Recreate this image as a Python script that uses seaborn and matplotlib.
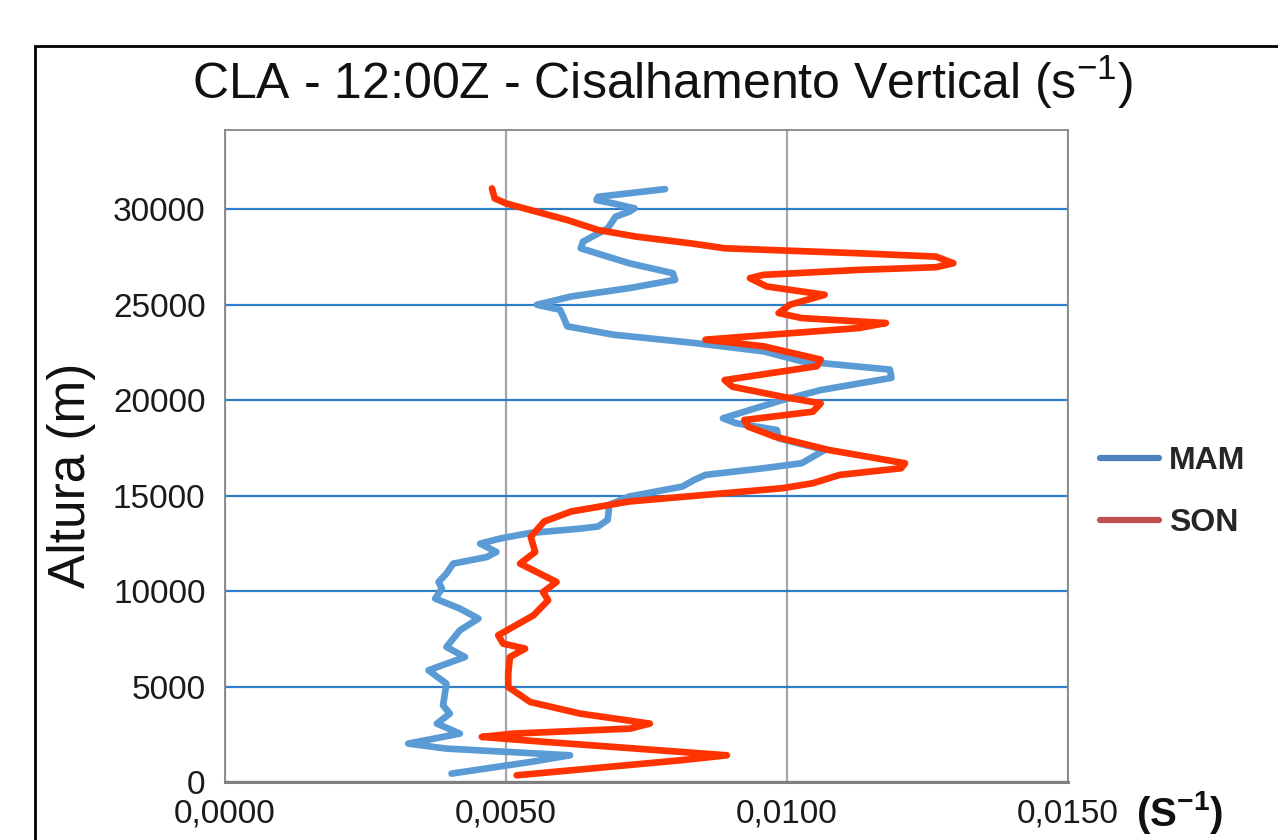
import numpy as np
import pandas as pd
import matplotlib
matplotlib.use("Agg")
import matplotlib.pyplot as plt
from matplotlib.lines import Line2D
from matplotlib.patches import Rectangle
from matplotlib.ticker import FixedLocator, FuncFormatter
import seaborn as sns

# ---- data ----
mam_altura = [440, 1047, 1398, 1749, 2011, 2534, 3058, 3581, 4016, 5152, 5849, 6545, 7069,
              7943, 8556, 9079, 9603, 10125, 10472, 10912, 11435, 11781, 12046, 12482, 12744,
              13032, 13268, 13381, 13729, 14513, 14948, 15471, 15819, 16081, 16429, 16690,
              17387, 17997, 18432, 18781, 19042, 19390, 20000, 20523, 21161, 21596, 22031,
              22553, 22988, 23423, 23858, 24293, 24728, 24989, 25424, 25859, 26294, 26642,
              27164, 27947, 28295, 28991, 29600, 29861, 30035, 30296, 30470, 30644, 31044]
mam_valor = [0.00403, 0.00543, 0.00614, 0.00394, 0.00326, 0.00418, 0.00377, 0.00400, 0.00388,
             0.00394, 0.00362, 0.00427, 0.00394, 0.00418, 0.00451, 0.00418, 0.00374, 0.00386,
             0.00380, 0.00394, 0.00406, 0.00466, 0.00483, 0.00454, 0.00489, 0.00541, 0.00632,
             0.00664, 0.00681, 0.00684, 0.00719, 0.00814, 0.00835, 0.00855, 0.00958, 0.01026,
             0.01067, 0.00985, 0.00982, 0.00910, 0.00886, 0.00924, 0.00992, 0.01060, 0.01186,
             0.01183, 0.01026, 0.00958, 0.00835, 0.00691, 0.00609, 0.00603, 0.00596, 0.00555,
             0.00616, 0.00719, 0.00801, 0.00797, 0.00719, 0.00633, 0.00637, 0.00681, 0.00695,
             0.00719, 0.00729, 0.00691, 0.00661, 0.00664, 0.00783]

son_altura = [351, 1136, 1398, 2095, 2360, 2534, 2796, 3058, 3581, 4189, 4974, 5676, 6545,
              6985, 7246, 7681, 8729, 9514, 9948, 10472, 11435, 12046, 12832, 13642, 14164,
              14687, 15035, 15384, 15645, 16081, 16429, 16690, 17387, 18084, 18606, 18955,
              19390, 19826, 20174, 20697, 21045, 21770, 22118, 22814, 23162, 23771, 24032,
              24293, 24554, 24989, 25511, 25946, 26381, 26555, 26816, 26955, 27164, 27512,
              27686, 27825, 27947, 28208, 28556, 28904, 29426, 30296, 30557, 31080]
son_valor = [0.00519, 0.00810, 0.00893, 0.00572, 0.00457, 0.00513, 0.00721, 0.00756, 0.00632,
             0.00543, 0.00504, 0.00504, 0.00507, 0.00534, 0.00495, 0.00486, 0.00549, 0.00575,
             0.00566, 0.00590, 0.00525, 0.00552, 0.00544, 0.00568, 0.00616, 0.00719, 0.00855,
             0.00992, 0.01046, 0.01094, 0.01203, 0.01210, 0.01074, 0.00978, 0.00931, 0.00924,
             0.01046, 0.01060, 0.00992, 0.00903, 0.00889, 0.01053, 0.01060, 0.00958, 0.00855,
             0.01128, 0.01176, 0.01026, 0.00985, 0.01005, 0.01067, 0.00964, 0.00934, 0.00958,
             0.01128, 0.01265, 0.01296, 0.01265, 0.01128, 0.00999, 0.00889, 0.00828, 0.00732,
             0.00664, 0.00609, 0.00500, 0.00480, 0.00475]

series = ["MAM", "SON"]
x_ticks = [0.0, 0.005, 0.010, 0.015]
y_ticks = [0, 5000, 10000, 15000, 20000, 25000, 30000]

title = "CLA - 12:00Z - Cisalhamento Vertical (s$^{-1}$)"
ylabel = "Altura (m)"
xunit = r"(S$^{\mathbf{-1}}$)"

line_colors = {"MAM": "#5B9BD5", "SON": "#FF3300"}
legend_colors = {"MAM": "#4F81BD", "SON": "#C0504D"}

# ---- style ----
sns.set_style("white")
plt.rcParams["font.family"] = ["Liberation Sans", "DejaVu Sans"]
plt.rcParams["mathtext.fontset"] = "custom"
plt.rcParams["mathtext.rm"] = "Liberation Sans"
plt.rcParams["mathtext.bf"] = "Liberation Sans:bold"

df = pd.concat([
    pd.DataFrame({"valor": mam_valor, "altura": mam_altura, "serie": "MAM"}),
    pd.DataFrame({"valor": son_valor, "altura": son_altura, "serie": "SON"}),
], ignore_index=True)

fig = plt.figure(figsize=(12.78, 8.4), dpi=100)
ax = fig.add_axes([225 / 1278, 58 / 840, 843 / 1278, 652 / 840])

sns.lineplot(data=df, x="valor", y="altura", hue="serie", hue_order=series,
             palette=line_colors, sort=False, estimator=None, linewidth=4.8,
             legend=False, ax=ax, solid_joinstyle="round", solid_capstyle="round")

ax.set_xlim(0, 0.015)
ax.set_ylim(0, 34140)
ax.xaxis.set_major_locator(FixedLocator(x_ticks))
ax.yaxis.set_major_locator(FixedLocator(y_ticks))
ax.xaxis.set_major_formatter(FuncFormatter(lambda v, p: f"{v:.4f}".replace(".", ",")))
ax.yaxis.set_major_formatter(FuncFormatter(lambda v, p: f"{int(v)}"))

ax.set_axisbelow(True)
ax.yaxis.grid(True, color="#2F7FC8", linewidth=1.6)
ax.xaxis.grid(True, color="#A6A6A6", linewidth=1.6)

for side in ["top", "right", "left"]:
    ax.spines[side].set_color("#868686")
    ax.spines[side].set_linewidth(1.3)
ax.spines["bottom"].set_color("#7F7F7F")
ax.spines["bottom"].set_linewidth(2.2)

ax.tick_params(axis="both", direction="out", length=6, width=1.3, color="#7F7F7F",
               labelsize=24, labelcolor="#1a1a1a")
ax.tick_params(axis="x", pad=6)
ax.tick_params(axis="y", pad=8)
ax.set_xlabel("")
ax.set_ylabel(ylabel, fontsize=37, color="#111111")
ax.yaxis.set_label_coords(-0.153, 0.47)

fig.text(662 / 1278, 1 - 82 / 840, title, fontsize=36, ha="center", va="center",
         color="#111111")
fig.text(1180 / 1278, 1 - 812 / 840, xunit, fontsize=29, fontweight="bold",
         ha="center", va="center", color="#111111")

handles = [Line2D([0], [0], color=legend_colors[s], lw=4.5) for s in series]
leg = fig.legend(handles, series, loc="upper left",
                 bbox_to_anchor=(1100 / 1278, 1 - 446 / 840), frameon=False,
                 prop={"weight": "bold", "size": 23}, handlelength=1.85,
                 handletextpad=0.3, labelspacing=1.0, borderpad=0, borderaxespad=0)

fig.patches.append(Rectangle((35 / 1278, -0.1), 1.2, (840 - 46) / 840 + 0.1,
                             transform=fig.transFigure, fill=False, ec="black", lw=2))

fig.savefig("out.png", dpi=100)
